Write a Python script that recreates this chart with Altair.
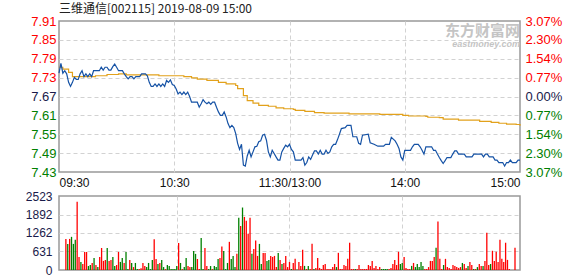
import altair as alt
import pandas as pd

TITLE = "三维通信[002115] 2019-08-09 15:00"
WATERMARK_CN = "东方财富网"
WATERMARK_EN = "eastmoney.com"

time_ticks = [0, 60, 120, 180, 240]
time_labels = ["09:30", "10:30", "11:30/13:00", "14:00", "15:00"]
price_ticks = [7.43, 7.49, 7.55, 7.61, 7.67, 7.73, 7.79, 7.85, 7.91]
pct_labels = ["3.07%", "2.30%", "1.54%", "0.77%", "0.00%", "0.77%", "1.54%", "2.30%", "3.07%"]
vol_ticks = [0, 631, 1262, 1892, 2523]
pre_close = 7.67

price_minute = [0, 1, 2, 3, 4, 5, 6, 7, 8, 9, 10, 11, 12, 13, 14, 15, 16, 17, 18, 21, 22, 23, 24, 25,
                26, 27, 28, 29, 30, 31, 33, 34, 35, 36, 37, 38, 39, 40, 42, 43, 45, 46, 47, 48, 49, 50,
                51, 52, 53, 54, 55, 56, 57, 58, 59, 60, 61, 62, 63, 64, 65, 66, 67, 68, 69, 72, 73, 74,
                75, 76, 77, 78, 79, 80, 81, 82, 83, 84, 85, 86, 87, 88, 89, 90, 91, 92, 93, 94, 95, 96,
                97, 98, 99, 100, 101, 102, 103, 104, 105, 106, 107, 108, 109, 110, 111, 112, 113, 114,
                115, 116, 117, 118, 119, 120, 121, 122, 123, 126, 127, 128, 129, 130, 131, 132, 133, 134,
                135, 136, 137, 138, 139, 140, 141, 142, 143, 144, 145, 146, 147, 149, 150, 152, 153, 155,
                156, 157, 158, 161, 162, 164, 166, 169, 170, 172, 173, 175, 176, 177, 178, 179, 180, 183,
                184, 185, 187, 188, 189, 190, 191, 194, 195, 196, 197, 198, 199, 200, 201, 202, 204, 205,
                206, 207, 208, 211, 212, 215, 216, 220, 221, 222, 223, 224, 226, 227, 228, 229, 231, 232,
                233, 234, 235, 236, 238, 239, 240]
price_value = [7.744, 7.775, 7.744, 7.752, 7.742, 7.715, 7.702, 7.715, 7.731, 7.724, 7.724, 7.742, 7.752,
               7.733, 7.742, 7.733, 7.742, 7.733, 7.752, 7.752, 7.763, 7.754, 7.763, 7.763, 7.754, 7.754,
               7.765, 7.773, 7.763, 7.752, 7.752, 7.742, 7.733, 7.726, 7.733, 7.733, 7.726, 7.733, 7.733,
               7.742, 7.742, 7.736, 7.715, 7.702, 7.702, 7.710, 7.702, 7.710, 7.702, 7.710, 7.702, 7.721,
               7.715, 7.723, 7.708, 7.705, 7.694, 7.678, 7.684, 7.676, 7.684, 7.676, 7.684, 7.670, 7.652,
               7.652, 7.636, 7.647, 7.660, 7.652, 7.647, 7.652, 7.645, 7.652, 7.652, 7.636, 7.621, 7.610,
               7.610, 7.621, 7.605, 7.584, 7.571, 7.578, 7.571, 7.552, 7.521, 7.502, 7.518, 7.452, 7.449,
               7.481, 7.499, 7.478, 7.494, 7.510, 7.512, 7.526, 7.529, 7.547, 7.550, 7.531, 7.494, 7.478,
               7.499, 7.489, 7.478, 7.468, 7.468, 7.494, 7.505, 7.515, 7.510, 7.518, 7.502, 7.494, 7.468,
               7.468, 7.476, 7.452, 7.460, 7.478, 7.470, 7.484, 7.497, 7.497, 7.487, 7.499, 7.487, 7.487,
               7.499, 7.489, 7.494, 7.510, 7.518, 7.518, 7.533, 7.550, 7.568, 7.571, 7.578, 7.578, 7.542,
               7.542, 7.521, 7.518, 7.547, 7.550, 7.523, 7.518, 7.512, 7.512, 7.518, 7.518, 7.540, 7.529,
               7.518, 7.505, 7.478, 7.468, 7.499, 7.499, 7.510, 7.518, 7.518, 7.510, 7.499, 7.487, 7.510,
               7.510, 7.499, 7.499, 7.487, 7.476, 7.466, 7.457, 7.466, 7.476, 7.476, 7.487, 7.497, 7.497,
               7.487, 7.487, 7.478, 7.478, 7.487, 7.487, 7.478, 7.487, 7.487, 7.478, 7.478, 7.468, 7.468,
               7.460, 7.460, 7.449, 7.460, 7.460, 7.468, 7.460, 7.460, 7.468, 7.468]

avg_minute = [0, 2, 5, 7, 18, 19, 24, 25, 30, 31, 34, 35, 51, 52, 60, 65, 69, 72, 77, 83, 87, 92, 93, 96,
              98, 101, 104, 109, 113, 117, 122, 123, 128, 133, 138, 151, 167, 179, 182, 191, 192, 198,
              200, 207, 208, 218, 219, 225, 229, 233, 238, 240]
avg_value = [7.763, 7.757, 7.747, 7.733, 7.733, 7.736, 7.736, 7.740, 7.740, 7.742, 7.742, 7.739, 7.739,
             7.736, 7.736, 7.733, 7.729, 7.725, 7.721, 7.715, 7.710, 7.705, 7.695, 7.673, 7.657, 7.649,
             7.642, 7.639, 7.634, 7.631, 7.629, 7.626, 7.623, 7.619, 7.617, 7.615, 7.613, 7.610, 7.608,
             7.607, 7.604, 7.603, 7.598, 7.598, 7.595, 7.595, 7.591, 7.588, 7.585, 7.582, 7.581, 7.577]

# minute-by-minute volume, minutes 1..240
vol_value = [1060, 890, 1060, 1130, 890, 1030, 2330, 445, 275, 205, 615, 615, 135, 170, 240, 410, 170, 100,
             445, 750, 310, 340, 750, 310, 340, 445, 135, 170, 615, 275, 410, 240, 615, 30, 340, 240, 100,
             240, 30, 30, 60, 240, 135, 100, 240, 30, 340, 1050, 375, 205, 240, 340, 100, 30, 170, 135, 30,
             30, 30, 135, 920, 240, 30, 100, 410, 135, 100, 100, 645, 550, 375, 30, 1090, 30, 750, 135, 30,
             135, 30, 135, 100, 375, 410, 800, 645, 30, 240, 960, 375, 480, 100, 550, 1780, 1500, 2130,
             1810, 1680, 1240, 1780, 550, 715, 1010, 480, 890, 205, 580, 580, 310, 340, 480, 445, 480, 100,
             580, 340, 205, 240, 480, 100,
             275, 35, 240, 380, 20, 275, 140, 690, 140, 35, 140, 35, 895, 35, 70, 410, 70, 35, 170, 205,
             35, 35, 35, 100, 205, 100, 585, 35, 35, 170, 140, 380, 930, 35, 35, 35, 35, 170, 35, 35, 35,
             35, 170, 140, 310, 70, 140, 35, 100, 35, 35, 35, 35, 35, 70, 205, 345, 170, 620, 205, 240,
             445, 70, 35, 35, 140, 240, 100, 205, 100, 275, 140, 35, 35, 100, 310, 310, 445, 755, 1650,
             380, 35, 170, 380, 100, 70, 35, 170, 140, 100, 70, 100, 240, 205, 70, 140, 275, 170, 35, 35,
             100, 205, 140, 140, 310, 1270, 170, 205, 655, 310, 620, 275, 1030, 380, 275, 930, 345, 35, 0,
             0, 755]
vol_dir = list(
    "rgrgggrrgrrrggrgrgrrrrgrrggrrggrggrgrggrrrrggggrrgrgg"
    "rggggggrgrggrrgggrrggrrggrgggrrgggrgggrgrgrrrrgrrrggrrggrrrr"
    "grgrrrrgrrgrrrgrgrrgrrrrrrrrrrrgrrrrrrrrrgrrrrrrrrrrrrrgggg"
    "rrrrrrggrrrrgrgggggrrrrrrgrrrgrrrrrrrrrgrrgrrgrgrrgrrrgrrrr"
)

n_vol = len(vol_value)
vol_df = pd.DataFrame({
    "minute": list(range(1, n_vol + 1)),
    "vol": vol_value,
    "dir": (vol_dir + ["r"] * n_vol)[:n_vol],
})
price_df = pd.DataFrame({"minute": price_minute, "price": price_value})
avg_df = pd.DataFrame({"minute": avg_minute, "price": avg_value})

GRID = "#d2d2d2"
RED = "#ff0000"
GREEN = "#008000"
NAVY = "#1a1a4a"
FONT = "Liberation Sans"
CJK = "Noto Sans CJK SC"

x_expr = "[" + ",".join(f"'{l}'" for l in time_labels) + "][indexof([" + \
    ",".join(str(t) for t in time_ticks) + "], datum.value)]"
pct_expr = "[" + ",".join(f"'{l}'" for l in pct_labels) + "][indexof([" + \
    ",".join(str(round(p * 100)) for p in price_ticks) + "], round(datum.value*100))]"

price_color = {
    "condition": [
        {"test": f"datum.value > {pre_close + 0.005}", "value": RED},
        {"test": f"datum.value < {pre_close - 0.005}", "value": GREEN},
    ],
    "value": NAVY,
}
edge_x = {"condition": {"test": f"datum.value <= {time_ticks[0]} || datum.value >= {time_ticks[-1]}", "value": 0},
          "value": 1}
edge_p = {"condition": {"test": f"datum.value <= {price_ticks[0]} || datum.value >= {price_ticks[-1]}", "value": 0},
          "value": 1}
edge_v = {"condition": {"test": f"datum.value <= {vol_ticks[0]} || datum.value >= {vol_ticks[-1]}", "value": 0},
          "value": 1}

x_scale = alt.Scale(domain=[time_ticks[0], time_ticks[-1]], nice=False, zero=False)
p_scale = alt.Scale(domain=[price_ticks[0], price_ticks[-1]], nice=False, zero=False)

x_top = alt.X("minute:Q", scale=x_scale, title=None,
              axis=alt.Axis(values=time_ticks, labelExpr=x_expr, labelFlush=True, grid=True,
                            gridDash=[4, 3], gridColor=GRID, gridOpacity=edge_x, ticks=False,
                            domain=False, labelPadding=5, labelFontSize=12, labelColor="#111",
                            labelFont=FONT))
y_left = alt.Y("price:Q", scale=p_scale, title=None,
               axis=alt.Axis(values=price_ticks, format=".2f", labelColor=price_color,
                             labelFontSize=13, labelPadding=3, ticks=False, domain=False, grid=True,
                             gridDash=[4, 3], gridColor=GRID, gridOpacity=edge_p, labelFont=FONT))
y_right = alt.Y("price:Q", scale=p_scale, title=None,
                axis=alt.Axis(orient="right", values=price_ticks, labelExpr=pct_expr,
                              labelColor=price_color, labelFontSize=13, labelPadding=5, ticks=False,
                              domain=False, grid=False, labelFont=FONT))

avg_line = alt.Chart(avg_df).mark_line(color="#e2a11b", strokeWidth=1.2, interpolate="step-after").encode(
    x=x_top, y=y_left)
price_line = alt.Chart(price_df).mark_line(color="#1552a5", strokeWidth=1.2).encode(x=x_top, y=y_left)
right_axis = alt.Chart(price_df).mark_line(strokeOpacity=0).encode(x=x_top, y=y_right)

one = pd.DataFrame({"a": [0]})
title_mark = alt.Chart(one).mark_text(text=TITLE, align="left", baseline="middle", font=CJK,
                                      fontSize=12, color="#222").encode(x=alt.value(0), y=alt.value(-12))
wm_cn = alt.Chart(one).mark_text(text=WATERMARK_CN, align="right", baseline="middle", font=CJK,
                                 fontSize=15, fontWeight="bold", color="#c4c4c4").encode(
    x=alt.value(461), y=alt.value(10))
wm_en = alt.Chart(one).mark_text(text=WATERMARK_EN, align="right", baseline="middle", font=FONT,
                                 fontSize=9, fontWeight="bold", fontStyle="italic", color="#c4c4c4").encode(
    x=alt.value(461), y=alt.value(22.5))

left_layer = alt.layer(avg_line, price_line)
top = alt.layer(left_layer, right_axis, title_mark, wm_cn, wm_en).resolve_scale(y="independent").properties(
    width=461, height=151)

x_bot = alt.X("minute:Q", scale=x_scale, title=None,
              axis=alt.Axis(values=time_ticks, labels=False, grid=True, gridDash=[4, 3], gridColor=GRID,
                            gridOpacity=edge_x, ticks=False, domain=False))
bars = alt.Chart(vol_df).mark_bar(size=1.3).encode(
    x=x_bot,
    y=alt.Y("vol:Q", scale=alt.Scale(domain=[vol_ticks[0], vol_ticks[-1]], nice=False), title=None,
            axis=alt.Axis(values=vol_ticks, format="d", labelColor=NAVY, labelFontSize=12,
                          labelPadding=7, ticks=False, domain=False, grid=True, gridDash=[4, 3],
                          gridColor=GRID, gridOpacity=edge_v, labelFont=FONT)),
    color=alt.Color("dir:N", scale=alt.Scale(domain=["r", "g"], range=[RED, GREEN]), legend=None),
).properties(width=461, height=74)

chart = alt.vconcat(top, bars, spacing=24, bounds="flush").properties(
    padding={"left": 24, "top": 2, "right": 0, "bottom": 0},
    background="white",
).configure_view(stroke="#999", strokeWidth=1.5)

chart.save("out.html", embed_options={"renderer": "svg", "actions": False})
